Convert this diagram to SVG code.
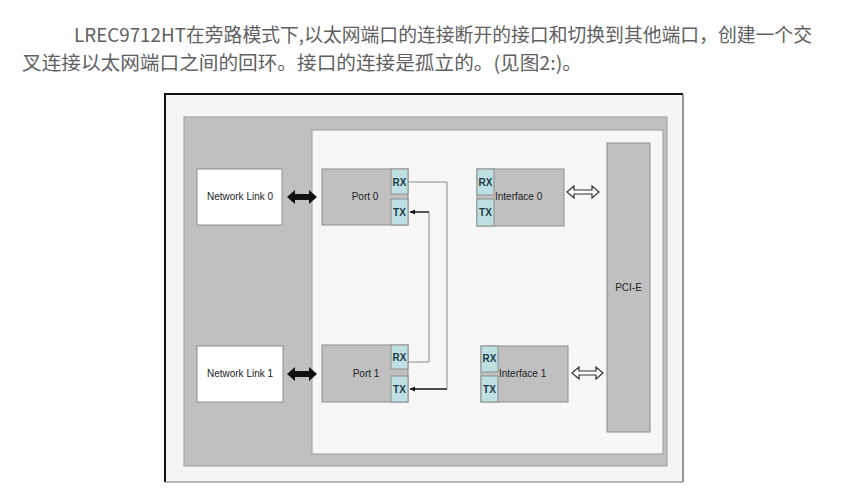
<svg xmlns="http://www.w3.org/2000/svg" width="855" height="498" viewBox="0 0 855 498">
<style>
.para{font-family:"Noto Sans CJK SC","Noto Sans",sans-serif;font-size:19px;fill:#606060}
.lbl{font-family:"Liberation Sans",Arial,sans-serif;font-size:10px;fill:#222}
.pt{font-family:"Liberation Sans",Arial,sans-serif;font-size:10px;font-weight:bold;fill:#1d3b48}
.box{fill:#c0c0c0;stroke:#8e8e8e;stroke-width:1}
.wbox{fill:#ffffff;stroke:#8e8e8e;stroke-width:1}
.rxtx{fill:#bfe0e2;stroke:#8e8e8e;stroke-width:1}
.wire{fill:none;stroke:#8a8a8a;stroke-width:1}
.tx{fill:none;stroke:#111;stroke-width:1.4;marker-end:url(#ah)}
.dbl{fill:#111;stroke:none}
.hol{fill:#fff;stroke:#333;stroke-width:1.2}
</style>
<defs>
<marker id="ah" markerWidth="6" markerHeight="6" refX="5" refY="3" orient="auto" markerUnits="userSpaceOnUse">
<path d="M0,0.5 L5,3 L0,5.5 Z" fill="#111"/>
</marker>
</defs>
<rect width="855" height="498" fill="#ffffff"/>
<text class="para" x="74" y="42" textLength="738" lengthAdjust="spacingAndGlyphs">LREC9712HT在旁路模式下,以太网端口的连接断开的接口和切换到其他端口，创建一个交</text>
<text class="para" x="22" y="70" textLength="560" lengthAdjust="spacingAndGlyphs">叉连接以太网端口之间的回环。接口的连接是孤立的。(见图2:)。</text>
<g id="frame">
<rect x="165" y="94" width="518" height="388" fill="#f6f5f4"/>
<line x1="165" y1="94" x2="683" y2="94" stroke="#111" stroke-width="2"/>
<line x1="165" y1="93" x2="165" y2="482" stroke="#111" stroke-width="2"/>
<line x1="683" y1="94" x2="683" y2="482" stroke="#333" stroke-width="1"/>
<line x1="165" y1="482" x2="683" y2="482" stroke="#777" stroke-width="1"/>
<rect x="184" y="117" width="483" height="349" fill="#c0c0c0" stroke="#999" stroke-width="1"/>
<rect x="312" y="130" width="351" height="324" fill="#f7f7f7" stroke="#999" stroke-width="1"/>
</g>
<g id="pcie">
<rect class="box" x="607" y="143" width="43" height="289"/>
<text class="lbl" x="628.5" y="291" text-anchor="middle">PCI-E</text>
</g>
<g id="netlink0">
<rect class="wbox" x="197" y="169" width="85" height="56"/>
<text class="lbl" x="240" y="200" text-anchor="middle">Network Link 0</text>
</g>
<g id="netlink1">
<rect class="wbox" x="197" y="346" width="86" height="56"/>
<text class="lbl" x="240" y="377" text-anchor="middle">Network Link 1</text>
</g>
<g id="port0">
<rect class="box" x="322" y="169" width="86" height="56"/>
<text class="lbl" x="365" y="200" text-anchor="middle">Port 0</text>
<rect class="rxtx" x="391" y="169" width="17" height="25"/>
<rect class="rxtx" x="391" y="199" width="17" height="26"/>
<text class="pt" x="399.5" y="185.5" text-anchor="middle">RX</text>
<text class="pt" x="399.5" y="215.5" text-anchor="middle">TX</text>
</g>
<g id="port1">
<rect class="box" x="322" y="345" width="86" height="57"/>
<text class="lbl" x="366" y="377" text-anchor="middle">Port 1</text>
<rect class="rxtx" x="391" y="345" width="17" height="24"/>
<rect class="rxtx" x="391" y="376" width="17" height="26"/>
<text class="pt" x="399.5" y="361" text-anchor="middle">RX</text>
<text class="pt" x="399.5" y="392.5" text-anchor="middle">TX</text>
</g>
<g id="iface0">
<rect class="box" x="477" y="169" width="87" height="57"/>
<rect class="rxtx" x="477" y="169" width="17" height="26"/>
<rect class="rxtx" x="477" y="199" width="17" height="27"/>
<text class="pt" x="485.5" y="186" text-anchor="middle">RX</text>
<text class="pt" x="485.5" y="216" text-anchor="middle">TX</text>
<text class="lbl" x="495" y="200">Interface 0</text>
</g>
<g id="iface1">
<rect class="box" x="481" y="346" width="87" height="56"/>
<rect class="rxtx" x="481" y="346" width="17" height="26"/>
<rect class="rxtx" x="481" y="376" width="17" height="26"/>
<text class="pt" x="489.5" y="362" text-anchor="middle">RX</text>
<text class="pt" x="489.5" y="392.5" text-anchor="middle">TX</text>
<text class="lbl" x="499" y="377">Interface 1</text>
</g>
<g id="connectors">
<path class="wire" d="M408,182 H447 V389"/>
<path class="tx" d="M447,389 H410"/>
<path class="wire" d="M408,362 H429 V212"/>
<path class="tx" d="M429,212 H410"/>
<path class="dbl" d="M287,197 L295,190 V194 H309 V190 L317,197 L309,204 V200 H295 V204 Z"/>
<path class="dbl" d="M287,374 L295,367 V371 H309 V367 L317,374 L309,381 V377 H295 V381 Z"/>
<path class="hol" d="M567,192 L574,186 V190 H592 V186 L599,192 L592,198 V194 H574 V198 Z"/>
<path class="hol" d="M572,373 L579,367 V371 H596 V367 L603,373 L596,379 V375 H579 V379 Z"/>
</g>
</svg>
